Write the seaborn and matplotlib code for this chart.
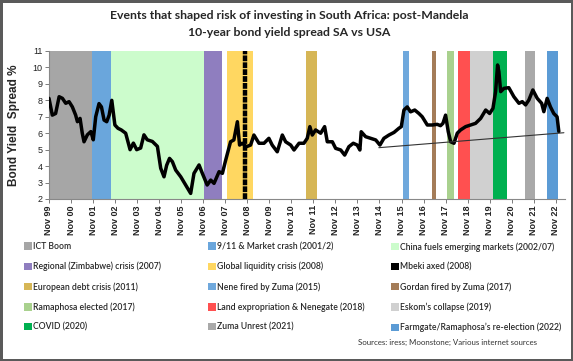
import numpy as np
import pandas as pd
import matplotlib
matplotlib.use("Agg")
import matplotlib.pyplot as plt
import seaborn as sns
from matplotlib.patches import Patch

# --- data (decimal years, spread %) ---
anos = [1999.83, 1999.98, 2000.13, 2000.29, 2000.44, 2000.59, 2000.74, 2000.89,
        2001.04, 2001.12, 2001.24, 2001.34, 2001.42, 2001.57, 2001.73, 2001.84,
        2001.95, 2002.10, 2002.21, 2002.33, 2002.45, 2002.56, 2002.68, 2002.82,
        2002.96, 2003.11, 2003.31, 2003.51, 2003.66, 2003.81, 2003.99, 2004.14,
        2004.29, 2004.52, 2004.75, 2004.90, 2005.05, 2005.17, 2005.30, 2005.43,
        2005.58, 2005.81, 2006.03, 2006.26, 2006.41, 2006.64, 2006.79, 2007.01,
        2007.17, 2007.32, 2007.55, 2007.70, 2007.85, 2008.07, 2008.22, 2008.38,
        2008.48, 2008.60, 2008.79, 2008.98, 2009.13, 2009.36, 2009.59, 2009.81,
        2009.96, 2010.19, 2010.42, 2010.57, 2010.80, 2010.95, 2011.18, 2011.40,
        2011.55, 2011.67, 2011.78, 2011.93, 2012.16, 2012.34, 2012.46, 2012.69,
        2012.84, 2013.07, 2013.25, 2013.44, 2013.64, 2013.82, 2013.94, 2014.00,
        2014.20, 2014.43, 2014.66, 2014.85, 2015.03, 2015.26, 2015.49, 2015.71,
        2015.82, 2015.94, 2016.09, 2016.24, 2016.43, 2016.62, 2016.77, 2017.00,
        2017.22, 2017.45, 2017.60, 2017.71, 2017.83, 2017.95, 2018.06, 2018.21,
        2018.36, 2018.51, 2018.74, 2018.96, 2019.19, 2019.42, 2019.65, 2019.83,
        2019.98, 2020.10, 2020.19, 2020.25, 2020.33, 2020.48, 2020.70, 2020.93,
        2021.16, 2021.31, 2021.46, 2021.61, 2021.79, 2021.99, 2022.19, 2022.29,
        2022.44, 2022.59, 2022.74, 2022.89, 2022.97]
spread = [8.12, 7.10, 7.20, 8.22, 8.12, 7.82, 7.92, 7.60,
          7.10, 6.70, 6.90, 6.00, 5.48, 5.90, 6.10, 5.60,
          7.00, 7.80, 7.60, 6.80, 6.70, 7.10, 8.00, 6.50,
          6.30, 6.20, 6.00, 5.00, 5.40, 5.00, 5.10, 5.90,
          5.60, 5.50, 5.20, 3.87, 3.35, 4.05, 4.47, 4.27,
          3.76, 3.35, 2.85, 2.34, 3.56, 4.07, 3.56, 2.85,
          3.15, 2.95, 3.66, 3.56, 4.37, 5.48, 5.59, 6.70,
          5.28, 5.39, 5.18, 5.28, 5.89, 5.39, 5.39, 5.69,
          5.28, 4.87, 5.89, 5.48, 5.28, 4.98, 5.39, 5.39,
          5.69, 6.40, 5.89, 6.20, 6.00, 6.40, 5.48, 5.48,
          5.08, 4.98, 4.67, 5.18, 5.39, 5.28, 4.98, 6.09,
          5.79, 5.69, 5.59, 5.28, 5.69, 5.89, 6.05, 6.30,
          6.40, 7.41, 7.60, 7.30, 7.41, 7.20, 7.00, 6.50,
          6.50, 6.54, 6.46, 6.60, 7.10, 6.10, 5.48, 5.39,
          6.00, 6.20, 6.40, 6.50, 6.60, 6.90, 7.41, 7.20,
          7.51, 8.53, 10.15, 9.74, 8.53, 8.73, 8.77, 8.22,
          7.82, 7.92, 7.72, 8.02, 8.63, 8.12, 7.82, 7.31,
          8.12, 7.60, 7.20, 7.00, 6.10]

# linha de tendência (fina)
tendencia_x = [2014.80, 2023.20]
tendencia_y = [5.12, 6.03]

# eventos: rótulo, início, fim, cor
eventos_rotulo = ["ICT Boom", "9/11 & Market crash (2001/2)",
                  "China fuels emerging markets (2002/07)",
                  "Regional (Zimbabwe) crisis (2007)", "Global liquidity crisis (2008)",
                  "Mbeki axed (2008)",
                  "European debt crisis (2011)", "Nene fired by Zuma (2015)",
                  "Gordan fired by Zuma (2017)",
                  "Ramaphosa elected (2017)", "Land expropriation & Nenegate (2018)",
                  "Eskom\u2019s collapse (2019)",
                  "COVID (2020)", "Zuma Unrest (2021)",
                  "Farmgate/Ramaphosa\u2019s re-election (2022)"]
eventos_inicio = [1999.83, 2001.80, 2002.65, 2006.88, 2007.92, 2008.74,
                  2011.50, 2015.88, 2017.20, 2017.88, 2018.38, 2018.92,
                  2019.97, 2021.42, 2022.42]
eventos_fim = [2001.80, 2002.65, 2006.88, 2007.70, 2009.10, 2008.74,
               2011.99, 2016.15, 2017.38, 2018.20, 2018.92, 2019.97,
               2020.60, 2021.88, 2022.92]
eventos_cor = ["#A6A6A6", "#6AA6DC", "#CCFCCC", "#8F7EBF", "#FFD761", "#000000",
               "#D6B656", "#6FA8DC", "#A47C58", "#A9D18E", "#FF5050", "#D0D0D0",
               "#00B050", "#A9A9A9", "#5B9BD5"]

tick_anos = [1999.83 + i for i in range(24)]
tick_rotulos = [f"Nov {int(a) % 100:02d}" for a in tick_anos]

df = pd.DataFrame({"ano": anos, "spread": spread})

sns.set_theme(style="white")
plt.rcParams['font.family'] = ['Lato', 'DejaVu Sans']

fig = plt.figure(figsize=(5.73, 3.61), dpi=100)
fig.patch.set_edgecolor("#5a5a5a")
fig.patch.set_linewidth(2.5)
ax = fig.add_axes([49 / 573, 1 - 199 / 361, (565 - 49) / 573, 148 / 361])

for rot, ini, fim, cor in zip(eventos_rotulo, eventos_inicio, eventos_fim, eventos_cor):
    if ini == fim:
        ax.axvline(ini, color=cor, linewidth=3.2, linestyle=(0, (1.3, 0.25)), zorder=3)
    else:
        ax.axvspan(ini, fim, color=cor, linewidth=0, zorder=1)

sns.lineplot(data=df, x="ano", y="spread", color="black", linewidth=2.5, ax=ax, zorder=4)
ax.plot(tendencia_x, tendencia_y, color="#333333", linewidth=0.8, zorder=5)

ax.set_xlim(1999.83, 2023.25)
ax.set_ylim(2, 11)
ax.set_yticks(range(2, 12))
ax.set_xticks(tick_anos)
ax.set_xticklabels(tick_rotulos, rotation=90, fontsize=6.5, fontweight="bold",
                   family=['Liberation Sans'])
for lb in ax.get_yticklabels():
    lb.set_fontsize(6.5)
    lb.set_family(['Liberation Sans'])
ax.tick_params(axis="both", length=3, width=0.6, color="#666666", pad=1.5, colors="#222222")
ax.tick_params(axis="both", which="both", bottom=True, left=True)
for s in ["top", "right"]:
    ax.spines[s].set_visible(False)
for s in ["left", "bottom"]:
    ax.spines[s].set_color("#888888")
    ax.spines[s].set_linewidth(0.8)
ax.set_xlabel("")
ax.set_ylabel("Bond Yield  Spread %", fontsize=8.5, fontweight="bold",
              family=['Liberation Sans'])
ax.yaxis.set_label_coords(-29 / 516, 0.5)

fig.text(0.505, 0.958, "Events that shaped risk of investing in South Africa: post-Mandela",
         ha="center", va="center", fontsize=8.8, fontweight="bold")
fig.text(0.505, 0.91, "10-year bond yield spread SA vs USA",
         ha="center", va="center", fontsize=8.8, fontweight="bold")

# legenda: três colunas independentes
handles = [Patch(facecolor=c, edgecolor="none") for c in eventos_cor]
col_x = [24 / 573, 208 / 573, 391 / 573]
for c in range(3):
    idx = [r * 3 + c for r in range(5)]
    fig.legend([handles[i] for i in idx], [eventos_rotulo[i] for i in idx],
               loc="upper left", bbox_to_anchor=(col_x[c], 1 - 242 / 361),
               frameon=False, handlelength=0.9, handleheight=0.9,
               handletextpad=0.15, labelspacing=1.25, borderpad=0, borderaxespad=0,
               prop={"weight": "semibold", "size": 6.2})

fig.text(447 / 573, 1 - 342 / 361, "Sources: iress; Moonstone; Various internet sources",
         ha="center", va="center", fontsize=5.7, color="#333333")

fig.savefig("out.png", dpi=100)
